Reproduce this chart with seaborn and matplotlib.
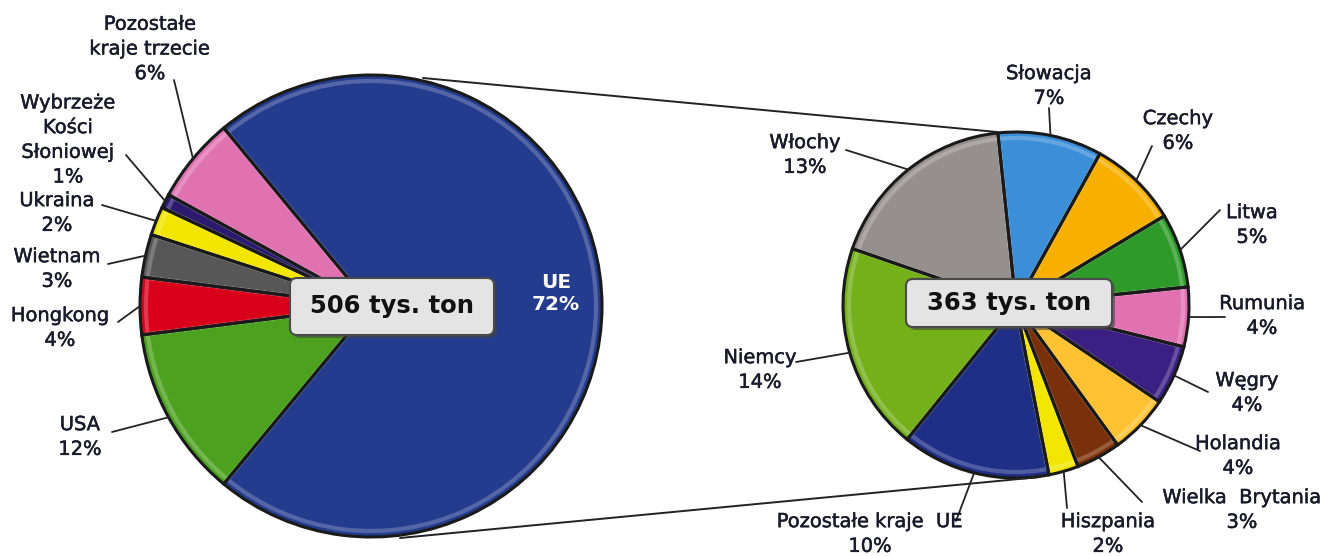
import numpy as np
import seaborn as sns
import matplotlib.pyplot as plt
import matplotlib.patheffects as pe
from matplotlib.patches import FancyBboxPatch

# Left pie - export destinations (share of total, %)
left_labels = ['UE', 'USA', 'Hongkong', 'Wietnam', 'Ukraina',
               'Wybrzeże\nKości\nSłoniowej', 'Pozostałe\nkraje trzecie']
left_values = [72, 12, 4, 3, 2, 1, 6]
left_colors = ['#243C8E', '#4CA21F', '#D8001A', '#575757', '#F2E600', '#2B1B70', '#E172B2']

# Right pie - breakdown of the UE slice (share of total, %)
right_labels = ['Słowacja', 'Czechy', 'Litwa', 'Rumunia', 'Węgry', 'Holandia',
                'Wielka  Brytania', 'Hiszpania', 'Pozostałe kraje  UE', 'Niemcy', 'Włochy']
right_values = [7, 6, 5, 4, 4, 4, 3, 2, 10, 14, 13]
right_colors = ['#3B8ED8', '#F7B000', '#2E9A2A', '#E172B2', '#3B1F82', '#FFC232',
                '#7A3008', '#F2E600', '#1F2F88', '#73B01A', '#968F8F']

left_total = '506 tys. ton'
right_total = '363 tys. ton'

W, H = 1322, 556
sns.set_theme(style="white")
plt.rcParams['font.family'] = ['DejaVu Sans']

fig = plt.figure(figsize=(W / 100, H / 100), dpi=100)
ax = fig.add_axes([0, 0, 1, 1])


def Y(y):
    # image coordinates (y down) -> axes coordinates (y up)
    return H - y


lc, lr = (371, Y(306)), 231
rc, rr = (1016, Y(305)), 173
lstart, rstart = 129.6, 96


def draw_pie(values, colors, start, center, radius):
    # faces, then a soft inner highlight, then dark outlines on top
    wedges, _ = ax.pie(values, colors=colors, startangle=start, counterclock=False,
                       center=center, radius=radius, wedgeprops=dict(linewidth=0))
    ax.pie(values, colors=['none'] * len(values), startangle=start, counterclock=False,
           center=center, radius=radius - 6,
           wedgeprops=dict(edgecolor=(1, 1, 1, 0.22), linewidth=3, fill=False))
    ax.pie(values, colors=['none'] * len(values), startangle=start, counterclock=False,
           center=center, radius=radius,
           wedgeprops=dict(edgecolor='#1a1a1a', linewidth=2.2, fill=False))
    return wedges


wl = draw_pie(left_values, left_colors, lstart, lc, lr)
wr = draw_pie(right_values, right_colors, rstart, rc, rr)

# connector lines between the pies
ax.plot([423, 997], [Y(78), Y(132)], color='#222222', lw=1.4)
ax.plot([400, 1040], [Y(538), Y(477)], color='#222222', lw=1.4)

# label text centres and leader anchor points (image coords)
left_text = [(556, 293), (80, 437), (60, 328), (57, 269), (57, 213), (68, 140), (150, 49)]
left_anchor = [None, (112, 432), (118, 322), (108, 264), (102, 205), (126, 155), (174, 80)]
right_text = [(1049, 86), (1178, 131), (1252, 225), (1262, 316), (1247, 393), (1238, 456),
              (1242, 510), (1108, 534), (870, 534), (760, 370), (805, 155)]
right_anchor = [(1049, 108), (1152, 146), (1220, 210), (1225, 317), (1208, 392), (1200, 451),
                (1142, 502), (1067, 508), (956, 521), (796, 362), (846, 150)]

bold_fx = [pe.withStroke(linewidth=0.35, foreground='#1a1a2a')]


def label_pie(wedges, labels, values, texts, anchors, center, radius):
    for w, lab, v, (tx, ty), anc in zip(wedges, labels, values, texts, anchors):
        s = f'{lab}\n{v}%'
        if anc is None:
            ax.text(tx, Y(ty), s, ha='center', va='center', fontsize=14.5,
                    fontweight='bold', color='white', linespacing=1.2)
            continue
        ang = np.deg2rad((w.theta1 + w.theta2) / 2)
        ex = center[0] + radius * np.cos(ang)
        ey = center[1] + radius * np.sin(ang)
        ax.plot([ex, anc[0]], [ey, Y(anc[1])], color='#222222', lw=1.3)
        ax.text(tx, Y(ty), s, ha='center', va='center', fontsize=14,
                color='#1a1a2a', linespacing=1.38, path_effects=bold_fx)


label_pie(wl, left_labels, left_values, left_text, left_anchor, lc, lr)
label_pie(wr, right_labels, right_values, right_text, right_anchor, rc, rr)


def total_box(x0, y0, x1, y1, text):
    shadow = FancyBboxPatch((x0 + 3, Y(y1) - 3), x1 - x0, y1 - y0,
                            boxstyle='round,pad=0,rounding_size=7',
                            fc='#444444', ec='none', alpha=0.6, zorder=4)
    box = FancyBboxPatch((x0, Y(y1)), x1 - x0, y1 - y0,
                         boxstyle='round,pad=0,rounding_size=7',
                         fc='#E4E4E4', ec='#4a4a4a', lw=1.5, zorder=5)
    ax.add_patch(shadow)
    ax.add_patch(box)
    ax.text((x0 + x1) / 2, Y((y0 + y1) / 2), text, ha='center', va='center',
            fontsize=17.5, fontweight='bold', color='#111111', zorder=6)


total_box(290, 278, 494, 335, left_total)
total_box(906, 279, 1112, 327, right_total)

ax.set_xlim(0, W)
ax.set_ylim(0, H)
ax.set_aspect('equal')
ax.axis('off')

fig.savefig('out.png', dpi=100, facecolor='white')
